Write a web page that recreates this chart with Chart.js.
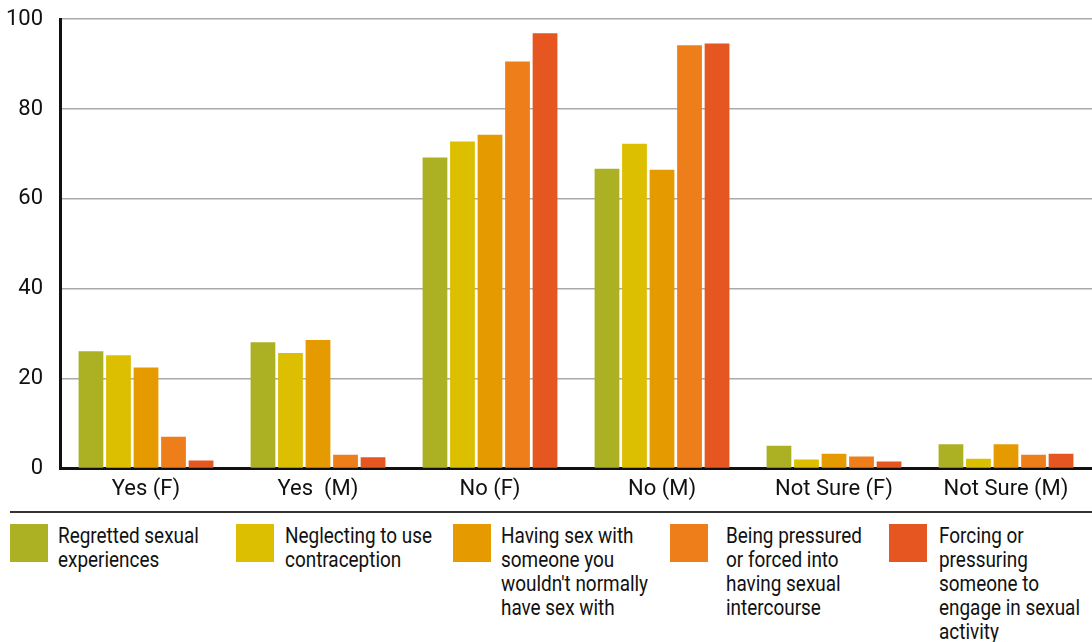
<!DOCTYPE html>
<html>
<head>
<meta charset="utf-8">
<script src="https://cdn.jsdelivr.net/npm/chart.js@4"></script>
<style>
  html, body { margin: 0; padding: 0; background: #fff; }
  #wrap { position: relative; width: 1092px; height: 642px; overflow: hidden; }
  #chartBox { position: absolute; left: 0; top: -11px; width: 1092px; height: 522px; }
  #legend {
    position: absolute; left: 10px; right: 0; top: 511px; height: 131px;
    border-top: 2px solid #333;
  }
  .item { position: absolute; top: 0; height: 130px; }
  .swatch { position: absolute; left: 0; top: 11px; width: 38px; height: 38px; }
  .txt {
    position: absolute; left: 48px; top: 11px;
    font-family: "Roboto", "Liberation Sans Narrow", sans-serif;
    font-size: 22px; line-height: 24px; color: #111; white-space: nowrap;
    transform: scaleX(0.86); transform-origin: left top;
  }
</style>
</head>
<body>
<div id="wrap">
  <div id="chartBox"><canvas id="chart"></canvas></div>
  <div id="legend"></div>
</div>
<script>
  // Danh mục trên trục x
  const categories = ['Yes (F)', 'Yes  (M)', 'No (F)', 'No (M)', 'Not Sure (F)', 'Not Sure (M)'];

  // Tên các chuỗi (mỗi dòng một phần tử)
  const seriesLabels = [
    ['Regretted sexual', 'experiences'],
    ['Neglecting to use', 'contraception'],
    ['Having sex with', 'someone you', "wouldn't normally", 'have sex with'],
    ['Being pressured', 'or forced into', 'having sexual', 'intercourse'],
    ['Forcing or', 'pressuring', 'someone to', 'engage in sexual', 'activity']
  ];

  const seriesColors = ['#abb123', '#dcbf00', '#e59a00', '#ee7e1a', '#e55620'];

  // Giá trị
  const regretted   = [26.1, 28.1, 69.2, 66.7, 5.1, 5.4];
  const neglecting  = [25.2, 25.7, 72.8, 72.3, 2.0, 2.2];
  const havingSex   = [22.5, 28.6, 74.3, 66.5, 3.3, 5.4];
  const pressured   = [7.1, 3.1, 90.6, 94.2, 2.7, 3.1];
  const forcing     = [1.8, 2.5, 96.9, 94.6, 1.6, 3.3];

  const yTicks = [0, 20, 40, 60, 80, 100];

  const seriesValues = [regretted, neglecting, havingSex, pressured, forcing];

  const datasets = seriesValues.map(function(values, i) {
    return {
      label: seriesLabels[i].join(' '),
      data: values,
      backgroundColor: seriesColors[i],
      borderWidth: 0,
      categoryPercentage: 0.8,
      barPercentage: 0.9
    };
  });

  const tickFont = { family: 'Roboto, "Liberation Sans", sans-serif', size: 22 };

  new Chart(document.getElementById('chart').getContext('2d'), {
    type: 'bar',
    data: { labels: categories, datasets: datasets },
    options: {
      responsive: true,
      maintainAspectRatio: false,
      animation: false,
      layout: { padding: 0 },
      plugins: { legend: { display: false }, tooltip: { enabled: false } },
      scales: {
        x: {
          grid: { display: false, drawTicks: false },
          border: { display: true, color: '#111', width: 3 },
          ticks: { color: '#111', font: tickFont, padding: 8 }
        },
        y: {
          min: 0, max: 100,
          afterBuildTicks: function(scale) {
            scale.ticks = yTicks.map(function(v) { return { value: v }; });
          },
          afterFit: function(scale) { scale.width = 60; },
          grid: { color: '#a9a9a9', lineWidth: 1.5, drawTicks: false },
          border: { display: true, color: '#111', width: 3 },
          ticks: { color: '#111', font: tickFont, padding: 17 }
        }
      }
    }
  });

  // Vị trí các mục chú thích (tính từ mép trái của chú thích)
  const legendOffsets = [0, 226, 443, 660, 879];
  const textOffsets = [48, 49, 48, 56, 50];

  // Chú thích HTML
  const legend = document.getElementById('legend');
  seriesLabels.forEach(function(lines, i) {
    const item = document.createElement('div');
    item.className = 'item';
    item.style.left = legendOffsets[i] + 'px';
    item.innerHTML = '<div class="swatch" style="background:' + seriesColors[i] + '"></div>' +
      '<div class="txt" style="left:' + textOffsets[i] + 'px">' + lines.join('<br>') + '</div>';
    legend.appendChild(item);
  });
</script>
</body>
</html>
